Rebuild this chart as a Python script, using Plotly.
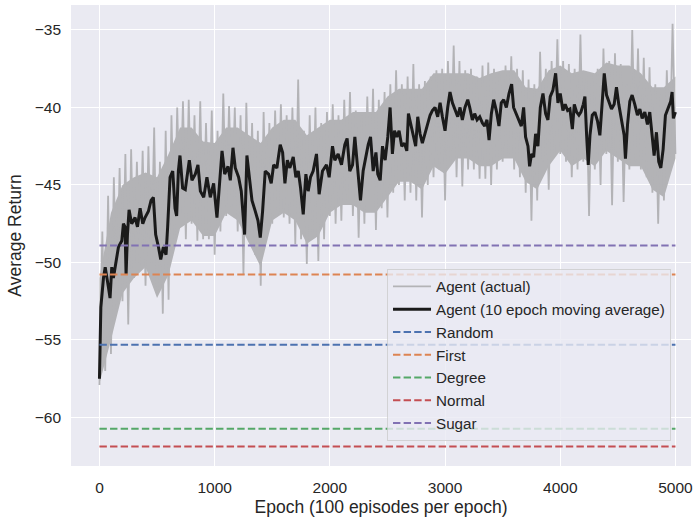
import plotly.graph_objects as go

# ---------------- data ----------------
# 10-epoch moving average of the agent's return: (epoch, value) readings
ma_epochs = [0, 12, 35, 50, 78, 92, 107, 121, 145, 165, 194, 208, 222, 231, 243, 257, 280, 309, 330, 353,
             376, 396, 425, 448, 468, 488, 512, 532, 555, 578, 592, 613, 636, 656, 670, 685, 699, 722, 745, 763,
             780, 803, 832, 855, 876, 905, 933, 962, 991, 1020, 1035, 1064, 1087, 1116, 1136, 1159, 1179, 1208,
             1231, 1260, 1280, 1301, 1324, 1353, 1376, 1396, 1416, 1439, 1468, 1491, 1512, 1540, 1569, 1590,
             1610, 1631, 1653, 1682, 1705, 1726, 1746, 1769, 1792, 1812, 1832, 1855, 1884, 1907, 1936, 1971,
             1994, 2023, 2043, 2072, 2101, 2130, 2150, 2173, 2197, 2217, 2246, 2266, 2289, 2312, 2333, 2353,
             2376, 2400, 2416, 2437, 2457, 2480, 2503, 2523, 2543, 2561, 2581, 2601, 2624, 2647, 2668, 2682,
             2705, 2725, 2745, 2763, 2783, 2803, 2827, 2850, 2870, 2890, 2913, 2936, 2957, 2977, 3000, 3023,
             3043, 3064, 3087, 3110, 3130, 3150, 3173, 3197, 3214, 3237, 3257, 3278, 3301, 3324, 3344, 3364,
             3382, 3402, 3422, 3445, 3468, 3488, 3509, 3532, 3555, 3578, 3595, 3619, 3642, 3662, 3682, 3699,
             3720, 3734, 3751, 3769, 3786, 3806, 3827, 3850, 3873, 3893, 3913, 3936, 3960, 3980, 4000, 4023,
             4043, 4064, 4084, 4105, 4122, 4142, 4162, 4179, 4200, 4214, 4229, 4243, 4258, 4278, 4301, 4324,
             4344, 4364, 4382, 4402, 4422, 4445, 4468, 4488, 4508, 4532, 4555, 4566, 4584, 4604, 4624, 4647,
             4670, 4691, 4711, 4734, 4757, 4777, 4797, 4815, 4835, 4855, 4873, 4893, 4913, 4936, 4959, 4971,
             4982, 5000]
ma_values = [-57.5, -52.9, -51.0, -50.3, -51.6, -52.3, -50.3, -51.0, -49.9, -49.0, -48.6, -47.5, -47.7, -50.8,
             -48.2, -46.6, -47.5, -47.1, -47.7, -46.5, -47.5, -47.1, -46.7, -46.0, -45.8, -48.2, -49.0, -49.8,
             -49.0, -49.5, -47.7, -44.5, -44.1, -46.5, -47.0, -44.1, -43.1, -45.2, -45.3, -44.3,
             -43.4, -44.7, -44.3, -43.7, -45.4, -45.8, -44.5, -45.8, -44.9, -47.1, -45.4, -42.8, -44.3, -43.8,
             -44.7, -42.6, -43.9, -44.5, -45.4, -48.2, -43.1, -44.5, -46.0, -46.7, -47.3, -48.4, -46.7, -44.1,
             -44.3, -44.9, -43.7, -43.9, -42.4, -42.9,
             -44.9, -43.4, -43.9, -43.2, -44.5, -44.1, -45.2, -46.9, -44.3, -45.4, -44.5, -44.1, -43.0, -45.6,
             -44.1, -43.7, -44.5, -42.5, -43.4, -43.0, -43.7, -42.4, -42.0, -44.1, -43.7, -41.9, -44.5, -46.0,
             -44.1, -43.2, -42.4, -41.9, -44.1, -42.9, -44.3, -44.7, -42.5, -43.4, -41.9, -40.0, -43.0, -41.5,
             -41.9, -41.5, -42.5, -42.3, -42.8, -40.4, -41.2, -41.7, -42.5, -40.6, -41.7, -42.3, -41.7, -41.0,
             -40.5, -40.2, -40.0, -40.6, -39.7, -40.6, -41.5, -40.0, -39.0, -39.7, -40.2, -40.6, -40.0, -40.8,
             -40.0, -39.5, -40.0, -40.8, -40.4, -40.8, -40.6, -41.0, -41.2, -40.8, -42.1, -40.4, -39.5, -40.2,
             -41.2, -39.7, -39.5, -40.0, -39.1, -38.5, -40.0, -40.4, -40.8, -41.2, -40.0, -41.9, -42.5, -43.8,
             -43.0, -43.2, -41.7, -42.5, -40.0, -39.1, -40.4, -40.8, -39.3, -38.9, -37.8, -39.7, -39.1, -40.2,
             -39.8, -40.2, -40.1, -41.4, -39.8, -40.3, -40.5, -40.3, -39.8, -39.3, -41.8, -43.7, -41.8, -40.5,
             -40.3, -40.9, -41.8, -39.6, -37.8, -39.2, -39.6, -40.1, -39.8, -38.7, -39.8, -40.9, -41.8, -43.3,
             -41.1, -39.6, -39.2, -39.8, -40.5, -40.1, -40.7, -40.3, -41.1, -40.3, -42.0, -43.1, -41.6, -43.5,
             -43.9, -42.7, -40.5, -40.1, -39.6, -39.0, -40.7, -40.3]

# Raw (actual) return: spike troughs read at epochs 0, 50, ..., 5000
actual_low_epochs = list(range(0, 5001, 50))
actual_low = [-57.9, -57.0, -55.9, -53.0, -52.5, -54.0, -51.0, -50.5, -51.5, -50.0,
              -52.0, -53.3, -52.4, -48.5, -47.0, -48.5, -47.5, -48.6, -48.5, -48.5,
              -49.5, -48.0, -47.0, -46.5, -48.0, -50.8, -48.0, -49.5, -51.5, -48.0,
              -47.5, -47.0, -47.1, -47.5, -48.8, -48.5, -50.1, -48.0, -49.9, -48.5,
              -47.0, -47.5, -47.3, -46.0, -47.0, -48.4, -47.5, -46.0, -47.9, -46.5,
              -47.1, -45.5, -45.0, -46.0, -45.5, -46.0, -47.1, -45.0, -44.5, -44.0,
              -46.0, -43.5, -44.5, -45.1, -44.0, -44.0, -44.6, -44.6, -45.0, -44.0,
              -43.5, -43.0, -44.0, -44.5, -45.5, -47.3, -46.0, -43.5, -45.3, -43.0,
              -43.0, -43.5, -44.5, -44.0, -43.5, -47.0, -44.0, -45.0, -43.0, -46.3,
              -43.5, -46.1, -44.0, -43.5, -44.0, -44.5, -45.5, -47.5, -46.0, -43.5,
              -43.0]
# Raw (actual) return: spike peaks read at epochs 25, 75, ..., 4975
actual_high_epochs = list(range(25, 5000, 50))
actual_high = [-48.0, -45.7, -44.5, -43.9, -43.0, -42.7, -43.5, -42.8, -42.5, -41.3,
               -43.5, -41.5, -40.5, -40.0, -39.6, -39.5, -40.5, -39.6, -41.0, -40.2,
               -41.5, -39.1, -39.9, -40.0, -40.5, -39.7, -41.0, -41.5, -40.3, -41.0,
               -40.2, -39.8, -40.5, -40.0, -38.2, -41.5, -40.5, -40.0, -41.0, -40.3,
               -39.8, -40.5, -39.5, -39.0, -40.2, -40.5, -39.3, -38.8, -39.5, -39.0,
               -38.5, -37.6, -38.5, -38.0, -37.2, -38.5, -38.3, -38.0, -37.6, -37.5,
               -37.0, -36.0, -37.0, -37.6, -37.5, -38.0, -37.3, -37.1, -37.5, -37.8,
               -37.3, -36.7, -37.5, -37.6, -38.2, -38.5, -36.4, -37.5, -37.0, -35.6,
               -37.0, -37.2, -37.5, -35.3, -38.0, -37.8, -37.5, -36.2, -37.0, -36.5,
               -37.2, -38.5, -35.0, -36.2, -36.8, -37.4, -38.5, -38.8, -37.6, -34.6]

# Raw (actual) return: limits of the densely covered core, read at epochs 0, 100, ..., 5000
core_epochs = list(range(0, 5001, 100))
core_high = [-51.0, -46.8, -45.0, -44.5, -44.2, -44.5, -43.0, -41.3, -41.3, -42.2,
             -42.3, -41.3, -41.3, -41.8, -42.3, -41.3, -40.8, -40.8, -41.8, -41.3,
             -40.8, -40.8, -40.3, -40.3, -40.3, -39.3, -38.8, -38.8, -38.8, -37.8,
             -37.8, -37.8, -37.8, -38.1, -37.8, -37.6, -37.6, -38.7, -38.8, -37.6,
             -37.3, -37.8, -37.6, -37.8, -37.1, -37.3, -37.3, -37.8, -38.7, -38.7,
             -38.0]
core_low = [-57.8, -55.0, -52.0, -51.0, -50.3, -52.3, -50.8, -47.8, -47.3, -48.3,
            -48.3, -46.8, -47.3, -48.8, -50.3, -47.3, -46.8, -47.3, -48.8, -48.3,
            -46.8, -46.3, -46.3, -46.8, -46.8, -45.8, -44.8, -44.8, -45.3, -43.8,
            -44.3, -43.3, -43.3, -43.8, -43.8, -43.3, -43.3, -44.8, -45.3, -43.8,
            -42.8, -43.8, -43.3, -43.8, -42.8, -43.3, -43.8, -43.8, -45.3, -45.8,
            -43.3]

# Baseline heuristics (constant average return)
baseline_names = ["Random", "First", "Degree", "Normal", "Sugar"]
baseline_values = [-55.3, -50.77, -60.73, -61.87, -48.9]
baseline_colors = ["#4C72B0", "#DD8452", "#55A868", "#C44E52", "#8172B3"]

x_ticks = [0, 1000, 2000, 3000, 4000, 5000]
y_ticks = [-60, -55, -50, -45, -40, -35]

# ---------------- build the figure ----------------
pairs = sorted(list(zip(actual_low_epochs, actual_low)) + list(zip(actual_high_epochs, actual_high)))
actual_x = [p[0] for p in pairs]
actual_y = [p[1] for p in pairs]

GREY = "#b3b3b6"
FONT = "Liberation Sans, Arial, sans-serif"
TXT = "#262626"

fig = go.Figure()
# densely covered core of the raw curve
fig.add_trace(go.Scatter(x=core_epochs + core_epochs[::-1],
                         y=core_high + core_low[::-1],
                         mode="lines", fill="toself", fillcolor=GREY,
                         line=dict(width=0, color=GREY), hoverinfo="skip", showlegend=False))
# spikes of the raw curve
fig.add_trace(go.Scatter(x=actual_x, y=actual_y, mode="lines", name="Agent (actual)",
                         line=dict(color=GREY, width=1.8)))
fig.add_trace(go.Scatter(x=ma_epochs, y=ma_values, mode="lines",
                         name="Agent (10 epoch moving average)",
                         line=dict(color="#1a1a1a", width=3)))
x_span = [ma_epochs[0], ma_epochs[-1]]
for name, val, col in zip(baseline_names, baseline_values, baseline_colors):
    fig.add_trace(go.Scatter(x=x_span, y=[val, val], mode="lines", name=name,
                             line=dict(color=col, width=2, dash="7.4px,3.2px")))

fig.update_layout(
    width=699, height=518,
    margin=dict(l=71, r=8, t=5, b=52),
    paper_bgcolor="white", plot_bgcolor="#EAEAF2",
    font=dict(family=FONT, size=15, color=TXT),
    showlegend=True,
    legend=dict(x=0.5097, y=0.4273, xanchor="left", yanchor="top",
                bgcolor="rgba(234,234,242,0.8)", bordercolor="rgba(204,204,204,0.8)",
                borderwidth=1, font=dict(family=FONT, size=15.2, color=TXT),
                itemwidth=38, tracegroupgap=0),
)
fig.update_xaxes(range=[-247, 5135], tickvals=x_ticks, showgrid=True, gridcolor="white",
                 gridwidth=1.3, zeroline=False, showline=False, ticks="",
                 ticklabelstandoff=10, tickfont=dict(size=15.5, color=TXT),
                 title=dict(text="Epoch (100 episodes per epoch)", font=dict(size=17.5, color=TXT),
                            standoff=6))
fig.update_yaxes(range=[-63.13, -33.39], tickvals=y_ticks, showgrid=True, gridcolor="white",
                 gridwidth=1.3, zeroline=False, showline=False, ticks="",
                 ticklabelstandoff=9, tickfont=dict(size=15.5, color=TXT),
                 title=dict(text="Average Return", font=dict(size=17.5, color=TXT), standoff=8))

fig.write_html("out.html")
